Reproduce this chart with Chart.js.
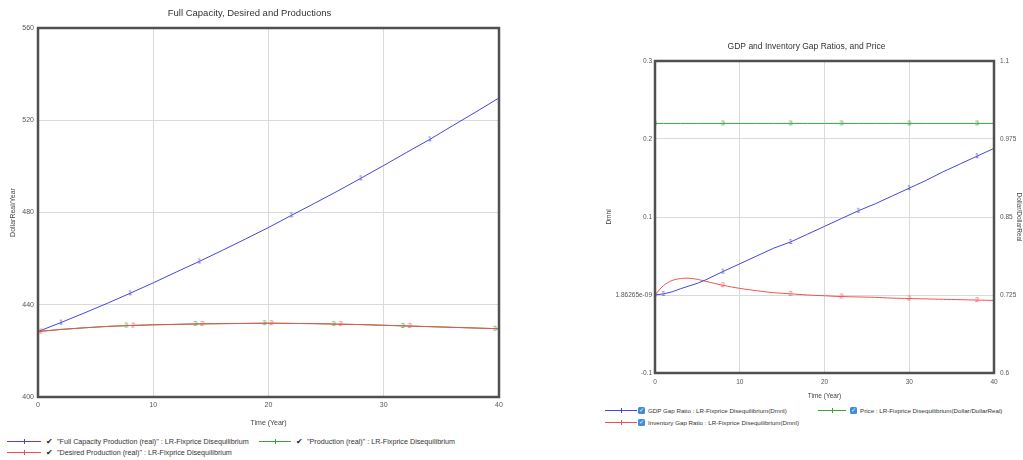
<!DOCTYPE html>
<html>
<head>
<meta charset="utf-8">
<script src="https://cdn.jsdelivr.net/npm/chart.js@4/dist/chart.umd.min.js"></script>
<style>
body { margin: 0; background: #fff; width: 1023px; height: 460px; overflow: hidden; position: relative;
       font-family: "Liberation Sans", Arial, sans-serif; }
.box { position: absolute; }
.item { position: absolute; height: 10px; display: flex; align-items: center; font-size: 7.2px; color: #333; white-space: nowrap; }
.item.r { font-size: 6.2px; }
.ln { position: relative; display: inline-block; height: 0; border-top: 1px solid; }
.ln i { position: absolute; left: 50%; top: -3px; width: 0; height: 5px; border-left: 1px solid; }
.ck { display: inline-block; font-size: 8px; color: #222; margin: 0 4px 0 5px; }
.cb { display: inline-block; width: 7px; height: 7px; background: #3d8ee0; border-radius: 1.5px; color: #fff;
      font-size: 6px; line-height: 7px; text-align: center; margin: 0 3px 0 0; }
</style>
</head>
<body>
<div class="box" style="left:0;top:0;width:520px;height:432px"><canvas id="c1"></canvas></div>
<div class="box" style="left:590px;top:30px;width:433px;height:372px"><canvas id="c2"></canvas></div>

<div class="item" style="left:7px;top:436px"><span class="ln" style="width:34px;color:#4545e0"><i></i></span><span class="ck">&#10004;</span>"Full Capacity Production (real)" : LR-Fixprice Disequilibrium</div>
<div class="item" style="left:259px;top:436px"><span class="ln" style="width:32px;color:#3ca03c"><i></i></span><span class="ck">&#10004;</span>"Production (real)" : LR-Fixprice Disequilibrium</div>
<div class="item" style="left:7px;top:447px"><span class="ln" style="width:34px;color:#f05050"><i></i></span><span class="ck">&#10004;</span>"Desired Production (real)" : LR-Fixprice Disequilibrium</div>

<div class="item r" style="left:605px;top:405px"><span class="ln" style="width:32px;color:#4545e0;margin-right:1px"><i></i></span><span class="cb">&#10003;</span>GDP Gap Ratio : LR-Fixprice Disequilibrium(Dmnl)</div>
<div class="item r" style="left:818px;top:405px"><span class="ln" style="width:28px;color:#3ca03c;margin-right:4px"><i></i></span><span class="cb">&#10003;</span>Price : LR-Fixprice Disequilibrium(Dollar/DollarReal)</div>
<div class="item r" style="left:605px;top:417px"><span class="ln" style="width:32px;color:#f05050;margin-right:1px"><i></i></span><span class="cb">&#10003;</span>Inventory Gap Ratio : LR-Fixprice Disequilibrium(Dmnl)</div>

<script>
// left chart: production levels
var years = [0, 2, 4, 6, 8, 10, 12, 14, 16, 18, 20, 22, 24, 26, 28, 30, 32, 34, 36, 38, 40];
var fullCapacity = [428.4, 432.3, 436.4, 440.6, 445.0, 449.5, 454.2, 458.8, 463.6, 468.5, 473.5,
                    478.8, 484.0, 489.3, 494.8, 500.4, 506.1, 511.7, 517.7, 523.6, 529.7];
var desired = [428.4, 429.3, 430.0, 430.6, 431.0, 431.3, 431.5, 431.7, 431.8, 431.9, 432.0,
               431.9, 431.8, 431.6, 431.4, 431.1, 430.8, 430.5, 430.2, 429.9, 429.6];
var production = [428.4, 429.3, 430.0, 430.6, 431.0, 431.3, 431.5, 431.7, 431.8, 431.9, 432.0,
                  431.9, 431.8, 431.6, 431.4, 431.1, 430.8, 430.5, 430.2, 429.9, 429.6];
var leftTicks = ['400', '440', '480', '520', '560'];

// right chart: gap ratios and price
var gapYears = [0, 1, 2, 3, 4, 5, 6, 8, 10, 12, 14, 16, 18, 20, 22, 24, 26, 28, 30, 32, 34, 36, 38, 40];
var gdpGap = [0, 0.0015, 0.004, 0.008, 0.0115, 0.015, 0.0195, 0.030, 0.040, 0.050, 0.060, 0.068,
              0.078, 0.088, 0.098, 0.108, 0.117, 0.127, 0.137, 0.147, 0.158, 0.168, 0.178, 0.188];
var invGap = [0, 0.012, 0.0185, 0.021, 0.0215, 0.020, 0.0175, 0.0125, 0.0085, 0.0055, 0.003, 0.0015,
              0, -0.001, -0.002, -0.0025, -0.003, -0.004, -0.0045, -0.005, -0.0055, -0.006, -0.0065, -0.007];
var price = [1, 1, 1, 1, 1, 1, 1, 1, 1, 1, 1, 1, 1, 1, 1, 1, 1, 1, 1, 1, 1, 1, 1, 1];
var gapTicks = ['-0.1', '1.86265e-09', '0.1', '0.2', '0.3'];
var priceTicks = ['0.6', '0.725', '0.85', '0.975', '1.1'];

var BLUE = '#4545e0', RED = '#f05050', GREEN = '#3ca03c';
var FONT = '"Liberation Sans", Arial, sans-serif';

function pts(xs, ys) {
  return xs.map(function (x, i) { return { x: x, y: ys[i] }; });
}

// vensim style number markers, dx shifts the digit sideways
function marker(digit, color, dx) {
  var c = document.createElement('canvas');
  c.width = 24; c.height = 12;
  var g = c.getContext('2d');
  g.fillStyle = color;
  g.font = '7px ' + FONT;
  g.textAlign = 'center';
  g.textBaseline = 'middle';
  g.fillText(digit, 12 + dx, 6.5);
  return c;
}

function marks(list) {
  return function (ctx) { return list.indexOf(ctx.raw.x) >= 0 ? 3 : 0; };
}

var frame = {
  id: 'frame',
  afterDatasetsDraw: function (chart) {
    var a = chart.chartArea, g = chart.ctx;
    g.save();
    g.strokeStyle = '#505050';
    g.lineWidth = 2.5;
    g.strokeRect(a.left, a.top, a.right - a.left, a.bottom - a.top);
    g.restore();
  }
};

function lineSet(label, data, color, mk, list, tension) {
  return {
    label: label, data: data, borderColor: color, backgroundColor: color, borderWidth: 1,
    tension: tension || 0, pointStyle: mk, pointRadius: marks(list), pointHoverRadius: 0
  };
}

Chart.defaults.font.family = FONT;
Chart.defaults.animation = false;

new Chart(document.getElementById('c1'), {
  type: 'line',
  data: {
    datasets: [
      lineSet('Desired Production (real)', pts(years, desired), RED, marker('2', RED, 3), [0, 8, 14, 20, 26, 32, 40]),
      lineSet('Production (real)', pts(years, production), GREEN, marker('3', GREEN, -4), [8, 14, 20, 26, 32, 40]),
      lineSet('Full Capacity Production (real)', pts(years, fullCapacity), BLUE, marker('1', BLUE, 0), [2, 8, 14, 22, 28, 34])
    ]
  },
  options: {
    responsive: true,
    maintainAspectRatio: false,
    layout: { padding: { left: 0, right: 21, top: 0, bottom: 0 } },
    plugins: {
      legend: { display: false },
      tooltip: { enabled: false },
      title: {
        display: true, text: 'Full Capacity, Desired and Productions', color: '#333',
        font: { size: 9.5, weight: 'normal' }, padding: { top: 8, bottom: 8.6 }
      }
    },
    scales: {
      x: {
        type: 'linear', min: 0, max: 40,
        ticks: { stepSize: 10, color: '#555', font: { size: 7 }, padding: 4, maxRotation: 0 },
        grid: { color: '#dadada', drawTicks: false },
        border: { display: false },
        title: { display: true, text: 'Time (Year)', color: '#444', font: { size: 7 }, padding: { top: 0, bottom: 5 } },
        afterFit: function (s) { s.height = 35; }
      },
      y: {
        min: 400, max: 560,
        ticks: { stepSize: 40, color: '#555', font: { size: 7 }, padding: 4,
                 callback: function (v, i) { return leftTicks[i]; } },
        grid: { color: '#dadada', drawTicks: false },
        border: { display: false },
        title: { display: true, text: 'DollarReal/Year', color: '#444', font: { size: 7 }, padding: { top: 8.5, bottom: 0 } },
        afterFit: function (s) { s.width = 38; }
      }
    }
  },
  plugins: [frame]
});

new Chart(document.getElementById('c2'), {
  type: 'line',
  data: {
    datasets: [
      lineSet('GDP Gap Ratio', pts(gapYears, gdpGap), BLUE, marker('1', BLUE, 0), [1, 8, 16, 24, 30, 38]),
      lineSet('Inventory Gap Ratio', pts(gapYears, invGap), RED, marker('2', RED, 0), [0, 8, 16, 22, 30, 38], 0.4),
      Object.assign(lineSet('Price', pts(gapYears, price), GREEN, marker('3', GREEN, 0), [0, 8, 16, 22, 30, 38]), { yAxisID: 'y1' })
    ]
  },
  options: {
    responsive: true,
    maintainAspectRatio: false,
    layout: { padding: 0 },
    plugins: {
      legend: { display: false },
      tooltip: { enabled: false },
      title: {
        display: true, text: 'GDP and Inventory Gap Ratios, and Price', color: '#333',
        font: { size: 8.5, weight: 'normal' }, padding: { top: 12, bottom: 8.8 }
      }
    },
    scales: {
      x: {
        type: 'linear', min: 0, max: 40,
        ticks: { stepSize: 10, color: '#555', font: { size: 6.5 }, padding: 5, maxRotation: 0 },
        grid: { color: '#dadada', drawTicks: false },
        border: { display: false },
        title: { display: true, text: 'Time (Year)', color: '#444', font: { size: 6.5 }, padding: { top: 0, bottom: 2 } },
        afterFit: function (s) { s.height = 29; }
      },
      y: {
        min: -0.1, max: 0.3,
        ticks: { stepSize: 0.1, color: '#555', font: { size: 6.5 }, padding: 3,
                 callback: function (v, i) { return gapTicks[i]; } },
        grid: { color: '#dadada', drawTicks: false },
        border: { display: false },
        title: { display: true, text: 'Dmnl', color: '#444', font: { size: 6.5 }, padding: { top: 15, bottom: 0 } },
        afterFit: function (s) { s.width = 65; }
      },
      y1: {
        position: 'right', min: 0.6, max: 1.1,
        ticks: { stepSize: 0.125, color: '#555', font: { size: 6.5 }, padding: 6,
                 callback: function (v, i) { return priceTicks[i]; } },
        grid: { display: false, drawTicks: false },
        border: { display: false },
        title: { display: true, text: 'Dollar/DollarReal', color: '#444', font: { size: 6.5 }, padding: { top: 0, bottom: 0 } },
        afterFit: function (s) { s.width = 29; }
      }
    }
  },
  plugins: [frame]
});
</script>
</body>
</html>
